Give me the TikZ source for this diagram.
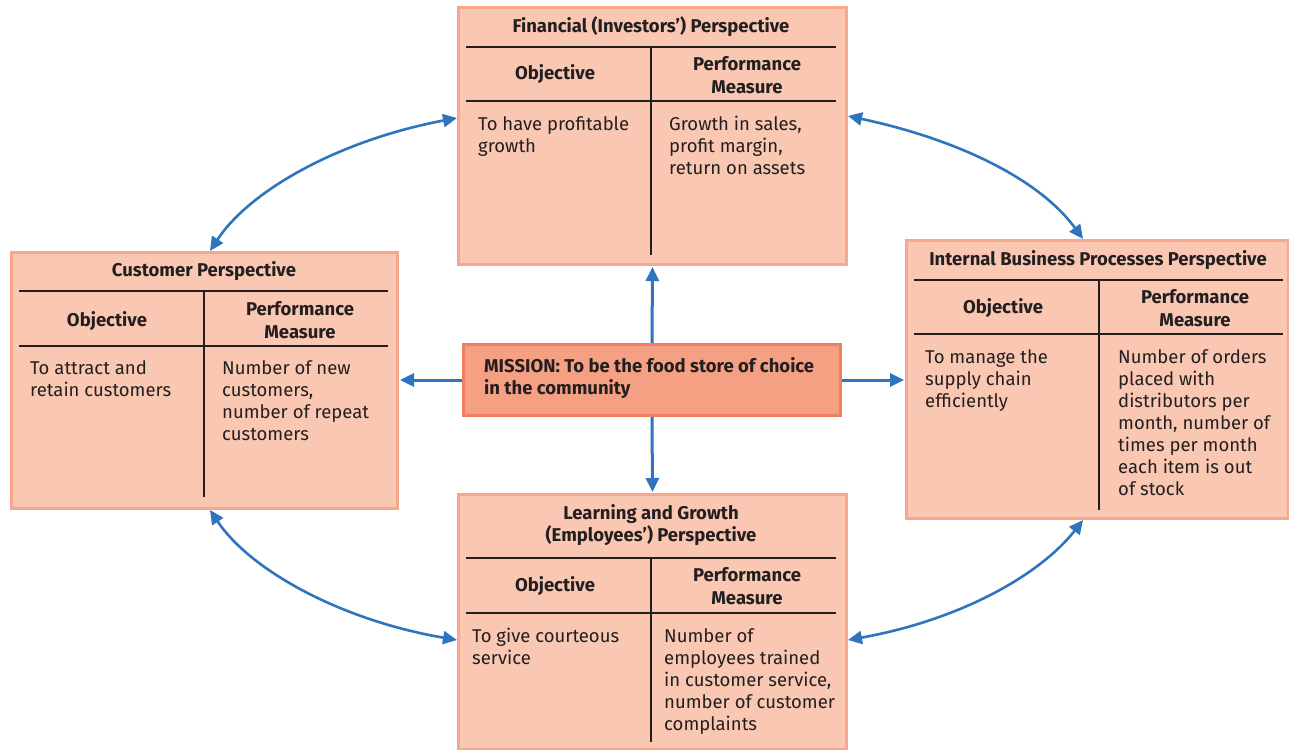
\documentclass[tikz,border=0pt]{standalone}
\usepackage{fontspec}
\setmainfont{Fira Sans}
\usetikzlibrary{arrows.meta}
\definecolor{boxfill}{RGB}{250,200,178}
\definecolor{boxline}{RGB}{247,168,140}
\definecolor{misfill}{RGB}{245,160,130}
\definecolor{misline}{RGB}{240,128,96}
\definecolor{arr}{RGB}{46,117,189}
\definecolor{txt}{RGB}{35,31,32}
\begin{document}
\begin{tikzpicture}[x=1pt,y=-1pt,
  panel/.style={draw=boxline, fill=boxfill, line width=3pt, inner sep=0, anchor=north west},
  rule/.style={draw=txt, line width=1.2pt},
  ttl/.style={font=\fontsize{18.5}{22.5}\selectfont\bfseries, align=center, text=txt, inner sep=0},
  body/.style={font=\fontsize{18.5}{22}\selectfont, align=left, text=txt, inner sep=0, anchor=north west},
  link/.style={draw=arr, line width=3pt, -{Triangle[length=14pt,width=13pt]}, shorten >=1pt},
  dlink/.style={draw=arr, line width=2.6pt, {Triangle[length=14pt,width=13pt]}-{Triangle[length=14pt,width=13pt]}}]
\useasboundingbox (0,0) rectangle (1289,749);

% Financial
\node[panel, minimum width=388, minimum height=257] (fin) at (457,6) {};
\draw[rule] (466,47) -- (836,47);
\draw[rule] (466,101) -- (836,101);
\draw[rule] (651,47) -- (651,255);
\node[ttl] (fint) at (651,27) {Financial (Investors’) Perspective};
\node[ttl] (fino) at (555,74) {Objective};
\node[ttl] (finp) at (747,75) {Performance\\Measure};
\node[body] (finb) at (478,116) {To have profitable\\growth};
\node[body] (finm) at (669,116) {Growth in sales,\\profit margin,\\return on assets};

% Customer
\node[panel, minimum width=386, minimum height=256] (cus) at (10,251) {};
\draw[rule] (19,291) -- (388,291);
\draw[rule] (19,346) -- (388,346);
\draw[rule] (204,291) -- (204,497);
\node[ttl] (cust) at (204,271) {Customer Perspective};
\node[ttl] (cuso) at (107,321) {Objective};
\node[ttl] (cusp) at (300,320) {Performance\\Measure};
\node[body] (cusb) at (30,360) {To attract and\\retain customers};
\node[body] (cusm) at (222,360) {Number of new\\customers,\\number of repeat\\customers};

% Internal
\node[panel, minimum width=382, minimum height=278] (int) at (905,239) {};
\draw[rule] (914,280) -- (1283,280);
\draw[rule] (914,334) -- (1283,334);
\draw[rule] (1099,280) -- (1099,510);
\node[ttl] (intt) at (1098,260) {Internal Business Processes Perspective};
\node[ttl] (into) at (1003,308) {Objective};
\node[ttl] (intp) at (1195,308) {Performance\\Measure};
\node[body] (intb) at (925,349) {To manage the\\supply chain\\efficiently};
\node[body] (intm) at (1118,349) {Number of orders\\placed with\\distributors per\\month, number of\\times per month\\each item is out\\of stock};

% Learning
\node[panel, minimum width=388, minimum height=255] (lea) at (457,493) {};
\draw[rule] (466,558) -- (836,558);
\draw[rule] (466,613) -- (836,613);
\draw[rule] (651,558) -- (651,742);
\node[ttl] (leat) at (651,525) {Learning and Growth\\(Employees’) Perspective};
\node[ttl] (leao) at (555,586) {Objective};
\node[ttl] (leap) at (747,586) {Performance\\Measure};
\node[body] (leab) at (472,628) {To give courteous\\service};
\node[body] (leam) at (664,628) {Number of\\employees trained\\in customer service,\\number of customer\\complaints};

% Mission
\node[draw=misline, fill=misfill, line width=3pt, minimum width=377, minimum height=71, inner sep=0, anchor=north west] (mis) at (462,343) {};
\node[ttl, align=left, anchor=north west] (mist) at (484,357) {MISSION: To be the food store of choice\\in the community};

% straight arrows
\draw[link] (mis.north) -- (fin.south);
\draw[link] (mis.south) -- (lea.north);
\draw[link] (mis.west) -- (mis.west -| cus.east);
\draw[link] (mis.east) -- (mis.east -| int.west);

% curved double arrows
\coordinate (c1a) at (fin.west |- 0,118);
\coordinate (c1b) at (210,0 |- cus.north);
\coordinate (c2a) at (fin.east |- 0,116);
\coordinate (c2b) at (1083,0 |- int.north);
\coordinate (c3a) at (210,0 |- cus.south);
\coordinate (c3b) at (lea.west |- 0,640);
\coordinate (c4a) at (lea.east |- 0,640);
\coordinate (c4b) at (1083,0 |- int.south);
\draw[dlink] (c1a) .. controls (340,140) and (250,190) .. (c1b);
\draw[dlink] (c2a) .. controls (960,140) and (1040,180) .. (c2b);
\draw[dlink] (c3a) .. controls (250,570) and (340,620) .. (c3b);
\draw[dlink] (c4a) .. controls (960,620) and (1040,575) .. (c4b);
\end{tikzpicture}
\end{document}
